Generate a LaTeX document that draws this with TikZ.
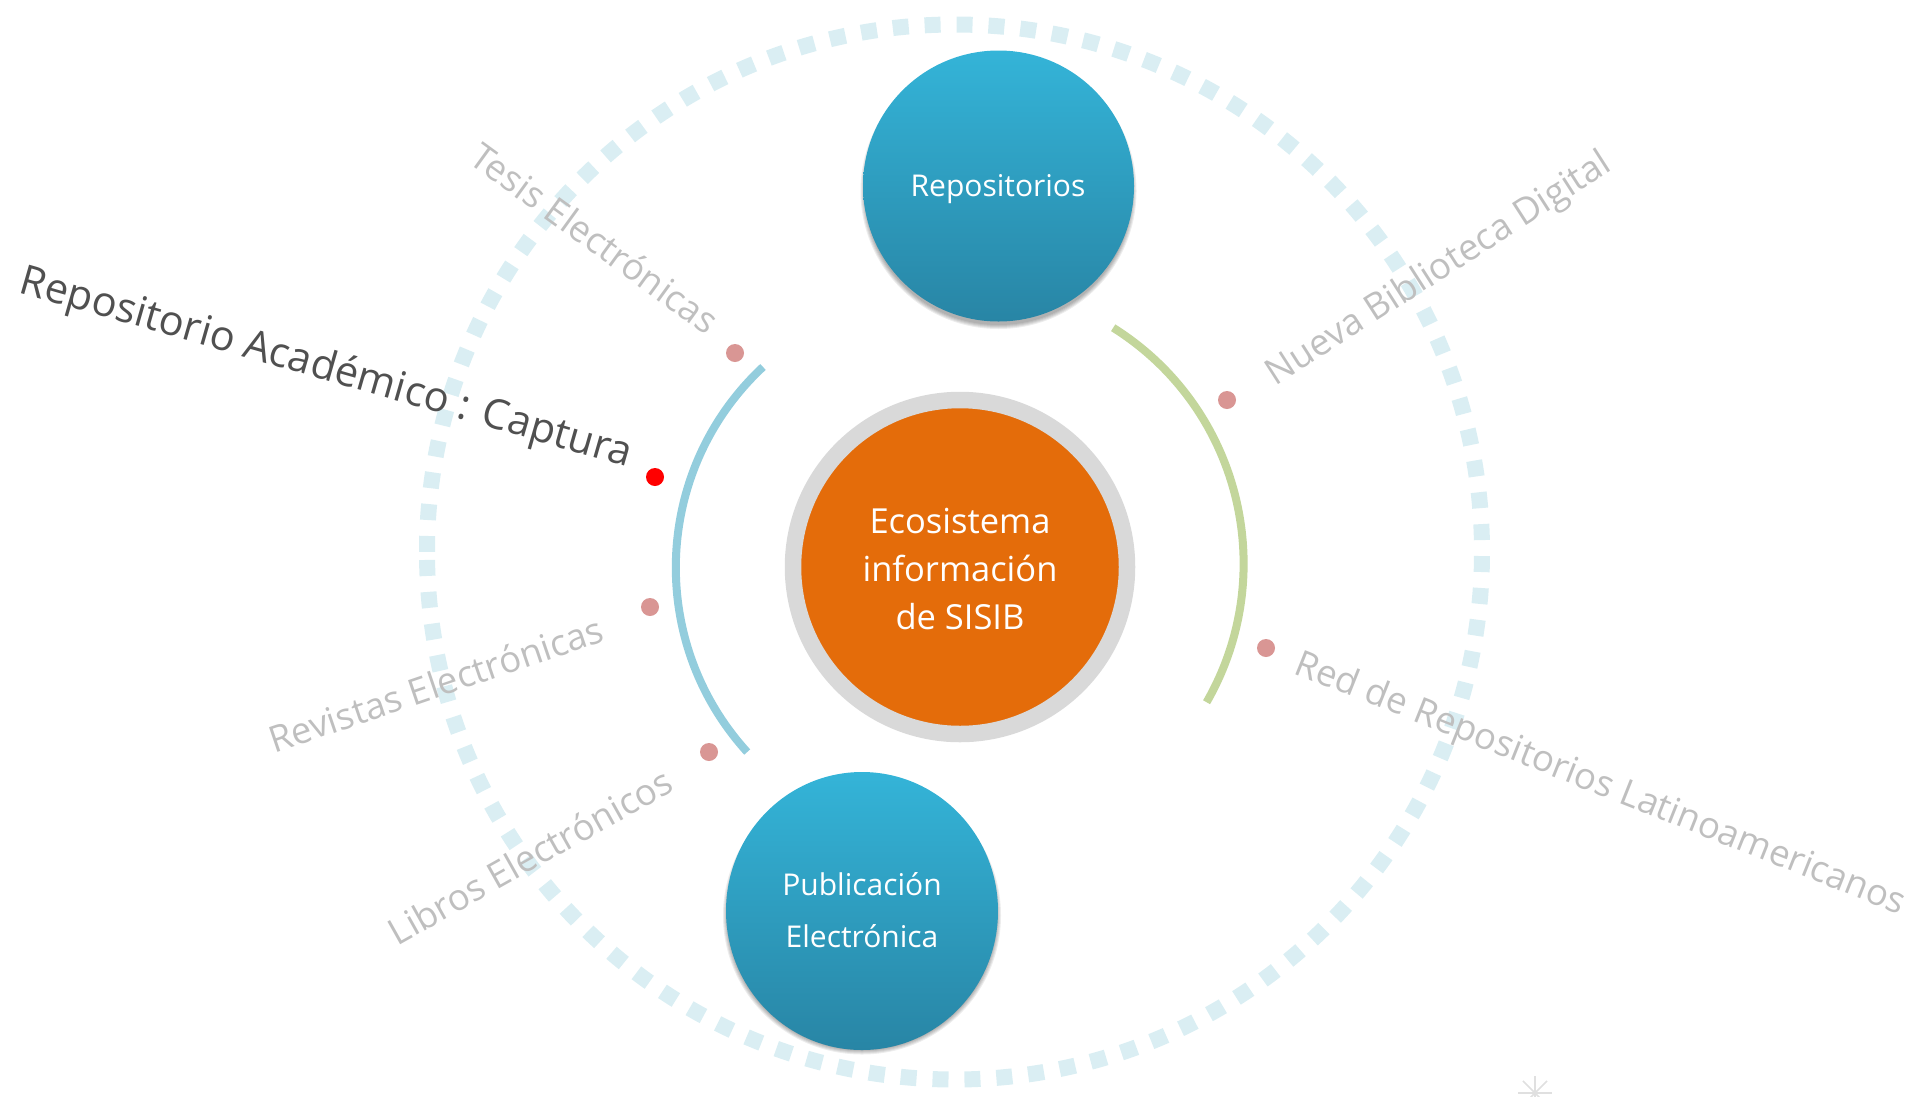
\documentclass[tikz,border=0pt]{standalone}
\usepackage{fontspec}
\usetikzlibrary{shapes.geometric}
\setmainfont{Open Sans}
\definecolor{orangec}{HTML}{E46C0A}
\definecolor{ringc}{HTML}{D9D9D9}
\definecolor{dashc}{HTML}{DAEEF3}
\definecolor{bluearc}{HTML}{93CDDD}
\definecolor{greenarc}{HTML}{C3D69B}
\definecolor{pinkdot}{HTML}{D99694}
\definecolor{graytext}{HTML}{BFBFBF}
\definecolor{darktext}{HTML}{505050}
\definecolor{balltop}{HTML}{34B4D8}
\definecolor{ballbot}{HTML}{2885A5}
\tikzset{
  x=1pt,y=-1pt,
  ball/.style={circle,minimum size=#1,inner sep=0pt,top color=balltop,bottom color=ballbot},
  oval/.style={ellipse,inner sep=0pt,outer sep=0pt,top color=balltop,bottom color=ballbot},
  balltext/.style={text=white,font=\fontsize{30}{52}\selectfont,align=center},
  dotmark/.style={circle,fill=pinkdot,minimum size=18pt,inner sep=0pt},
  faint/.style={text=graytext,font=\fontsize{36.5}{44}\selectfont},
  shadowdisc/.style={circle,fill=black,opacity=0.07,inner sep=0pt,minimum size=#1},
}
\begin{document}
\begin{tikzpicture}
\useasboundingbox (0,0) rectangle (1920,1096);
% dashed outer ring
\coordinate (ringc) at (954.5,552);
\draw[dashc,line width=16pt,dash pattern=on 16pt off 15.95pt,dash phase=24pt]
  ([xshift=-527.5pt]ringc) arc[start angle=180,end angle=-180,radius=527.5];
% arcs
\coordinate (arcb) at (950,567.5);
\coordinate (arcg) at (965.3,563.5);
\draw[bluearc,line width=8pt] (arcb) ++(227:274.2) arc[start angle=227,end angle=137.7,radius=274.2];
\draw[greenarc,line width=8pt] (arcg) ++(-57.9:278.3) arc[start angle=-57.9,end angle=29.9,radius=278.3];
% shadows
\foreach \s in {0,1,2,3,4}{
  \node[shadowdisc=268pt+\s*2pt] at (998.5,191) {};
  \node[shadowdisc=270pt+\s*2pt] at (862,915.5) {};
}
% centre
\node[circle,fill=orangec,draw=ringc,line width=16.5pt,minimum size=334pt,inner sep=0pt] (eco) at (960,567) {};
\node[text=white,align=center,font=\fontsize{34.5}{48}\selectfont] (ecotext) at (960,568.5) {Ecosistema\\información\\de SISIB};
\node[ball=271pt] (repo) at (998.5,186) {};
\node[balltext] (repotext) at (998,189.5) {Repositorios};
\node[oval,minimum width=272pt,minimum height=278pt] (pub) at (862,911) {};
\node[balltext] (pubtext) at (862,910) {Publicación\\Electrónica};
% dots
\node[dotmark] (d1) at (735,353) {};
\node[circle,fill=red,minimum size=18pt,inner sep=0pt] (d2) at (655,477) {};
\node[dotmark] (d3) at (650,607) {};
\node[dotmark] (d4) at (709,752) {};
\node[dotmark] (d5) at (1227,400) {};
\node[dotmark] (d6) at (1266,648) {};
% labels
\node[text=darktext,font=\fontsize{41.5}{50}\selectfont,rotate=-16] (l0) at (326,369) {Repositorio Académico : Captura};
\node[faint,rotate=-36] (l1) at (595,238) {Tesis Electrónicas};
\node[faint,rotate=18.8] (l2) at (436,684) {Revistas Electrónicas};
\node[faint,rotate=29.3] (l3) at (530,856) {Libros Electrónicos};
\node[faint,rotate=32.7] (l4) at (1439.5,270) {Nueva Biblioteca Digital};
\node[faint,rotate=-21.7] (l5) at (1600,785) {Red de Repositorios Latinoamericanos};
% faint star
\coordinate (st) at (1535,1093);
\foreach \a in {0,45,...,315}{
  \draw[black!12,line width=1.5pt] (st) -- ++(\a:17);
}
\end{tikzpicture}
\end{document}
